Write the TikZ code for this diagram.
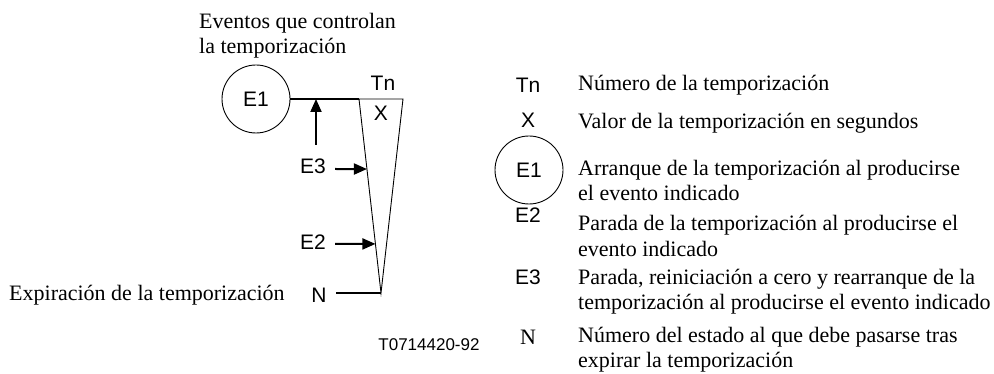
\documentclass[tikz,border=0pt]{standalone}
\usepackage{fontspec}
\setmainfont{Liberation Serif}
\newfontfamily\arialfont{Liberation Sans}
\usetikzlibrary{arrows.meta, positioning, calc}

\begin{document}
\begin{tikzpicture}[
    x=1pt, y=-1pt,
    lbl/.style = {
        font=\arialfont\fontsize{21}{24}\selectfont,
        inner sep=0pt
    },
    txt/.style = {
        font=\fontsize{22}{25.5}\selectfont,
        inner sep=0pt,
        align=left,
        anchor=west
    },
    evt/.style = {lbl, circle, draw, line width=0.9pt, minimum size=68pt},
    thinline/.style = {line width=0.9pt},
    bar/.style = {line width=2pt},
    arrow/.style = {-{Triangle[length=13pt,width=11pt]}, line width=2pt}
]
\useasboundingbox (0,0) rectangle (994,374);

%% Timer diagram
\node[evt] (e1) at (256,99) {E1};
\coordinate (tl) at (359,99);
\coordinate (tr) at (403,99);
\coordinate (tip) at (381,293);
\draw[bar] (e1.east) -- (tl);
\draw[thinline] (tl) -- (tr) -- (tip) -- cycle;

\node[lbl] (tn) at (383,83) {Tn};
\node[lbl] (x) at (381,113) {X};
\node[lbl] (e3) at (313,166) {E3};
\node[lbl] (e2) at (313,242) {E2};
\node[lbl] (n) at (319,295) {N};

%% Arrows into the timer
\coordinate (e3up) at (316,145);
\coordinate (e3top) at (316,99);
\draw[arrow] (e3up) -- (e3top);
\coordinate (e3a) at (335,169);
\coordinate (e3b) at ($(tl)!0.361!(tip)$);
\draw[arrow] (e3a) -- (e3b);
\coordinate (e2a) at (335,244);
\coordinate (e2b) at ($(tl)!0.747!(tip)$);
\draw[arrow] (e2a) -- (e2b);
\coordinate (nl) at (336,293);
\draw[bar] (nl) -- (tip);

%% Captions
\node[txt] (ev) at (199,35.5) {Eventos que controlan\\la temporización};
\node[txt] (exp) at (9,295) {Expiración de la temporización};
\node[lbl, font=\arialfont\fontsize{17}{20}\selectfont] (ref) at (429,345) {T0714420-92};

%% Legend
\node[lbl] (ktn) at (528,85) {Tn};
\node[lbl] (kx) at (528,120) {X};
\node[evt] (ke1) at (529,170) {E1};
\node[lbl] (ke2) at (528,215) {E2};
\node[lbl] (ke3) at (528,277) {E3};
\node[inner sep=0pt, font=\fontsize{22}{25.5}\selectfont] (kn) at (528,337) {N};

\node[txt] (dtn) at (578,85) {Número de la temporización};
\node[txt] (dx) at (578,123) {Valor de la temporización en segundos};
\node[txt] (de1) at (578,180.5) {Arranque de la temporización al producirse\\el evento indicado};
\node[txt] (de2) at (578,236) {Parada de la temporización al producirse el\\evento indicado};
\node[txt] (de3) at (578,291.5) {Parada, reiniciación a cero y rearranque de la\\temporización al producirse el evento indicado};
\node[txt] (dn) at (578,349.5) {Número del estado al que debe pasarse tras\\expirar la temporización};

\end{tikzpicture}
\end{document}
